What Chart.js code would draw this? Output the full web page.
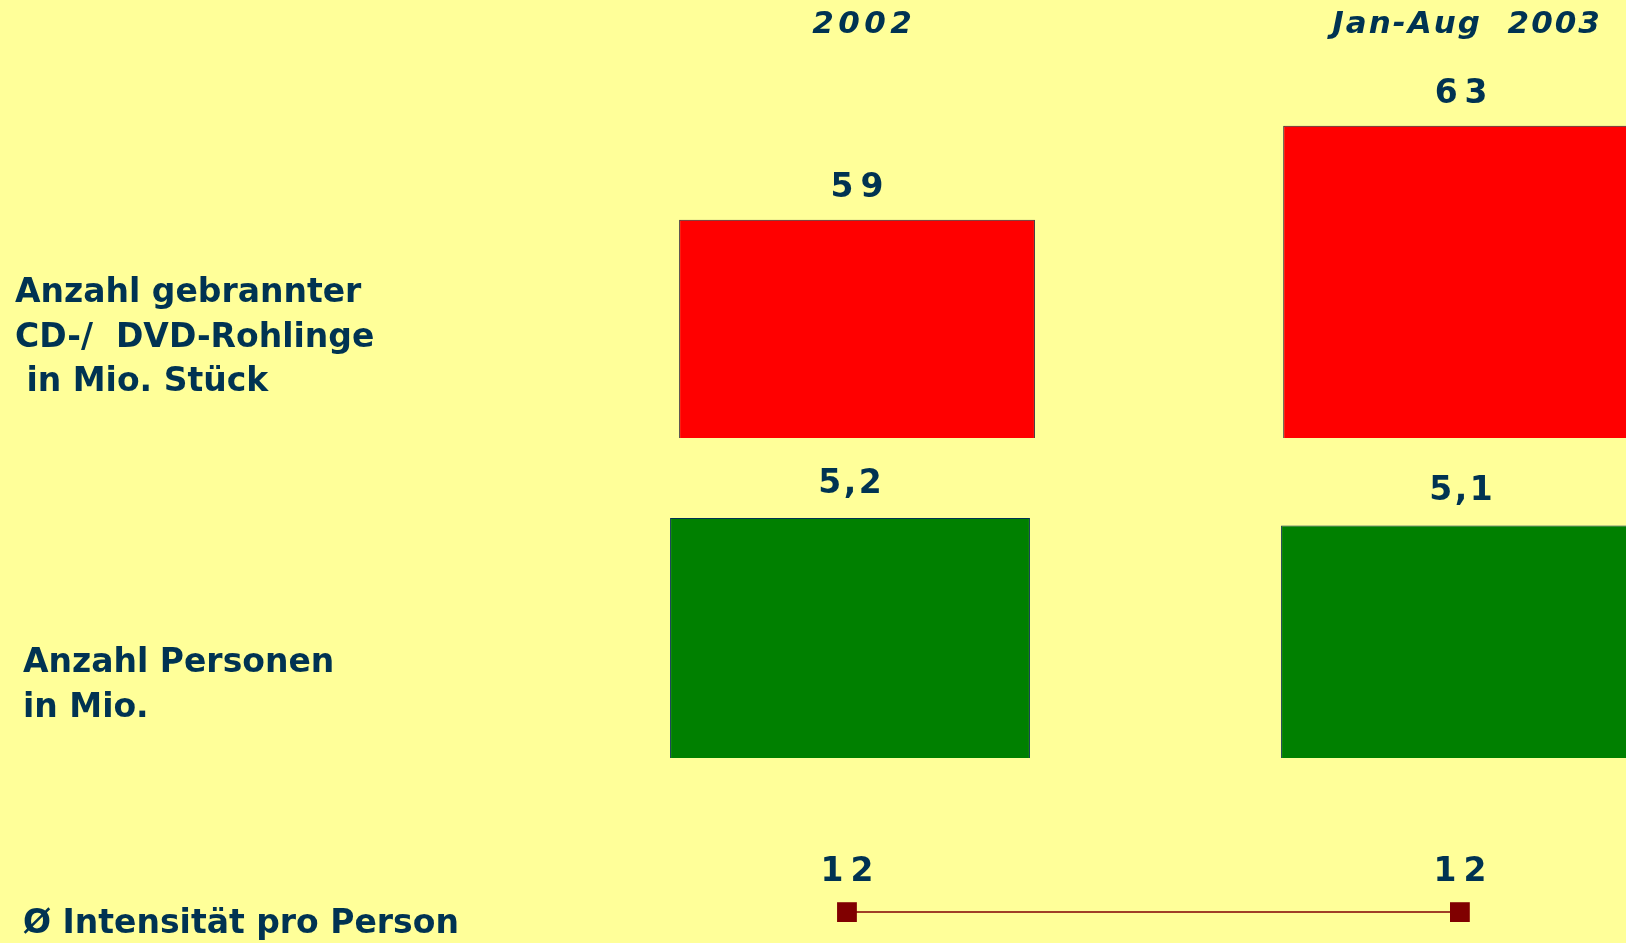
<!DOCTYPE html>
<html><head><meta charset="utf-8">
<script src="https://cdn.jsdelivr.net/npm/chart.js@4.4.1/dist/chart.umd.min.js"></script>
<style>
html,body{margin:0;padding:0;background:#ffff99;width:1626px;height:943px;overflow:hidden;}
.row{position:absolute;left:0;width:1626px;}
canvas{display:block;}
</style></head><body>
<div class="row" style="top:0;height:448px"><canvas id="c1" width="1626" height="448"></canvas></div>
<div class="row" style="top:448px;height:320px"><canvas id="c2" width="1626" height="320"></canvas></div>
<div class="row" style="top:768px;height:175px"><canvas id="c3" width="1626" height="175"></canvas></div>
<script>
// ---- data ----
const categories = ['2002', 'Jan-Aug  2003'];
const rohlingeMio = [59, 63];
const personenMio = [5.2, 5.1];
const intensitaet = [12, 12];
const rowLabelRohlinge = ['Anzahl gebrannter', 'CD-/  DVD-Rohlinge', ' in Mio. Stück'];
const rowLabelPersonen = ['Anzahl Personen', 'in Mio.'];
const rowLabelIntensitaet = ['Ø Intensität pro Person'];

// ---- styling ----
const NAVY = '#003352';
const FAMILY = '"DejaVu Sans", Verdana, sans-serif';
const HEADER_SPACING = [4.5, 2];
const pts = arr => arr.map((v, i) => ({x: i, y: v}));
const fmt = v => String(v).replace('.', ',');
const noPad = s => { s.paddingTop = 0; s.paddingBottom = 0; s.paddingLeft = 0; s.paddingRight = 0; };

// value labels above bars / points, positioned from the drawn elements
const valueLabels = {
  id: 'valueLabels',
  afterDatasetsDraw(chart, args, opts) {
    const ctx = chart.ctx;
    ctx.save();
    ctx.font = 'bold ' + opts.size + 'px ' + FAMILY;
    ctx.fillStyle = NAVY;
    ctx.textAlign = 'center';
    ctx.textBaseline = 'middle';
    chart.data.datasets.forEach((ds, di) => {
      chart.getDatasetMeta(di).data.forEach((el, i) => {
        const txt = fmt(ds.data[i].y);
        const sp = txt.includes(',') ? 2.5 : 7;
        ctx.letterSpacing = sp + 'px';
        ctx.fillText(txt, el.x + sp / 2, el.y - opts.offset);
      });
    });
    ctx.restore();
  }
};

// letter-spaced category headers (drawn by the x scale itself)
const headerSpacing = {
  id: 'headerSpacing',
  afterLayout(chart) {
    const sc = chart.scales.x;
    if (!sc || !sc.options.display || sc._lsPatched) return;
    const orig = sc.drawLabels.bind(sc);
    sc.drawLabels = function (area) {
      const c = this.ctx;
      const f = c.fillText;
      c.fillText = function (t, x, y, mw) {
        const k = categories.indexOf(t);
        const sp = k >= 0 ? HEADER_SPACING[k] : 0;
        this.letterSpacing = sp + 'px';
        return mw === undefined ? f.call(this, t, x + sp / 2, y) : f.call(this, t, x + sp / 2, y, mw);
      };
      orig(area);
      delete c.fillText;
      c.letterSpacing = '0px';
    };
    sc._lsPatched = true;
  }
};

function makeChart(id, cfg) {
  const xScale = {
    type: 'linear',
    position: 'top',
    min: -0.5,
    max: cfg.xMax,
    offset: false,
    display: !!cfg.header,
    grid: {display: false, drawTicks: false, offset: false},
    border: {display: false},
    afterBuildTicks: s => { s.ticks = categories.map((c, i) => ({value: i})); },
    afterFit: s => { noPad(s); if (cfg.header) s.height = 60; },
    ticks: {
      padding: 16,
      labelOffset: 5,
      autoSkip: false,
      maxRotation: 0,
      color: NAVY,
      font: {family: FAMILY, size: 31, weight: 'bold', style: 'italic'},
      callback: v => categories[v]
    }
  };
  const yScale = {
    type: 'linear',
    position: 'left',
    min: cfg.yMin,
    max: cfg.yMax,
    grid: {display: false, drawTicks: false},
    border: {display: false},
    afterBuildTicks: s => { s.ticks = [{value: s.min}]; },
    afterFit: s => { noPad(s); s.width = cfg.axisWidth; },
    ticks: {
      crossAlign: 'far',
      padding: 0,
      autoSkip: false,
      labelOffset: cfg.labelOffset,
      color: NAVY,
      font: {family: FAMILY, size: 33, weight: 'bold', lineHeight: 1.36},
      callback: () => cfg.rowLabel
    }
  };
  return new Chart(document.getElementById(id), {
    type: cfg.type,
    data: {datasets: [cfg.dataset]},
    options: {
      responsive: false,
      animation: false,
      devicePixelRatio: 1,
      layout: {autoPadding: false, padding: {left: cfg.padLeft, right: 0, top: 0, bottom: cfg.padBottom}},
      scales: {x: xScale, y: yScale},
      plugins: {
        legend: {display: false},
        tooltip: {enabled: false},
        valueLabels: {size: 33, offset: cfg.valueOffset}
      }
    },
    plugins: [valueLabels, headerSpacing]
  });
}

// row 1: burned blanks (Mio. Stück)
makeChart('c1', {
  type: 'bar', header: true, xMax: 1.273, yMin: 49.7, yMax: 65.8,
  padLeft: 15, padBottom: 10, axisWidth: 540, labelOffset: -100,
  rowLabel: rowLabelRohlinge, valueOffset: 31,
  dataset: {
    data: pts(rohlingeMio), backgroundColor: '#ff0000', borderColor: '#2a1f3a',
    borderWidth: 1, borderSkipped: false, barPercentage: 0.589, categoryPercentage: 1
  }
});

// row 2: persons (Mio.)
makeChart('c2', {
  type: 'bar', header: false, xMax: 1.270, yMin: 2, yMax: 6.133,
  padLeft: 23, padBottom: 10, axisWidth: 521.5, labelOffset: -72,
  rowLabel: rowLabelPersonen, valueOffset: 34,
  dataset: {
    data: pts(personenMio), backgroundColor: '#008000', borderColor: '#003352',
    borderWidth: 1, borderSkipped: false, barPercentage: 0.589, categoryPercentage: 1
  }
});

// row 3: average intensity per person
makeChart('c3', {
  type: 'line', header: false, xMax: 1.271, yMin: 0, yMax: 68,
  padLeft: 23, padBottom: 0, axisWidth: 517.5, labelOffset: -19,
  rowLabel: rowLabelIntensitaet, valueOffset: 40,
  dataset: {
    data: pts(intensitaet), borderColor: '#800000', borderWidth: 1.5,
    pointStyle: 'rect', pointRadius: 14, pointBackgroundColor: '#800000',
    pointBorderWidth: 0, fill: false, clip: false
  }
});
</script>
</body></html>
